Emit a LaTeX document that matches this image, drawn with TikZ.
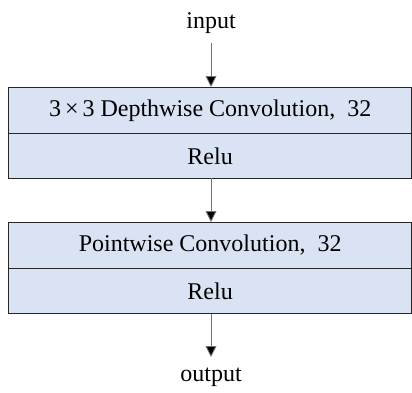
\documentclass[tikz,border=0pt]{standalone}
\usepackage{fontspec}
\setmainfont{Liberation Serif}
\usetikzlibrary{arrows.meta}
\definecolor{boxfill}{HTML}{DAE3F3}
\begin{document}
\begin{tikzpicture}[x=1pt,y=1pt,
  cell/.style={draw=black!85, line width=1.3pt, fill=boxfill, minimum width=403pt, minimum height=45.5pt, inner sep=0pt, font=\fontsize{24}{28}\selectfont},
  lbl/.style={font=\fontsize{24}{28}\selectfont, inner sep=0pt},
  flow/.style={draw=black!55, line width=0.9pt, -{Triangle[length=11pt,width=11pt,fill=black]}}]
\useasboundingbox (0,0) rectangle (412,392);
\node[lbl] (in) at (211,369) {input};
\node[cell, anchor=north west] (a1) at (8,305) {3\,×\,3 Depthwise Convolution,\ \ 32};
\node[cell, anchor=north west] (a2) at (8,259.5) {Relu};
\node[cell, anchor=north west] (b1) at (8,170) {Pointwise Convolution,\ \ 32};
\node[cell, anchor=north west] (b2) at (8,124.5) {Relu};
\node[lbl] (out) at (211,15) {output};
\coordinate (inE) at (211,349);
\coordinate (midS) at (211,214);
\coordinate (outS) at (211,35);
\draw[flow] (inE) -- (inE |- a1.north);
\draw[flow] (midS) -- (midS |- b1.north);
\draw[flow] (outS |- b2.south) -- (outS);
\end{tikzpicture}
\end{document}
